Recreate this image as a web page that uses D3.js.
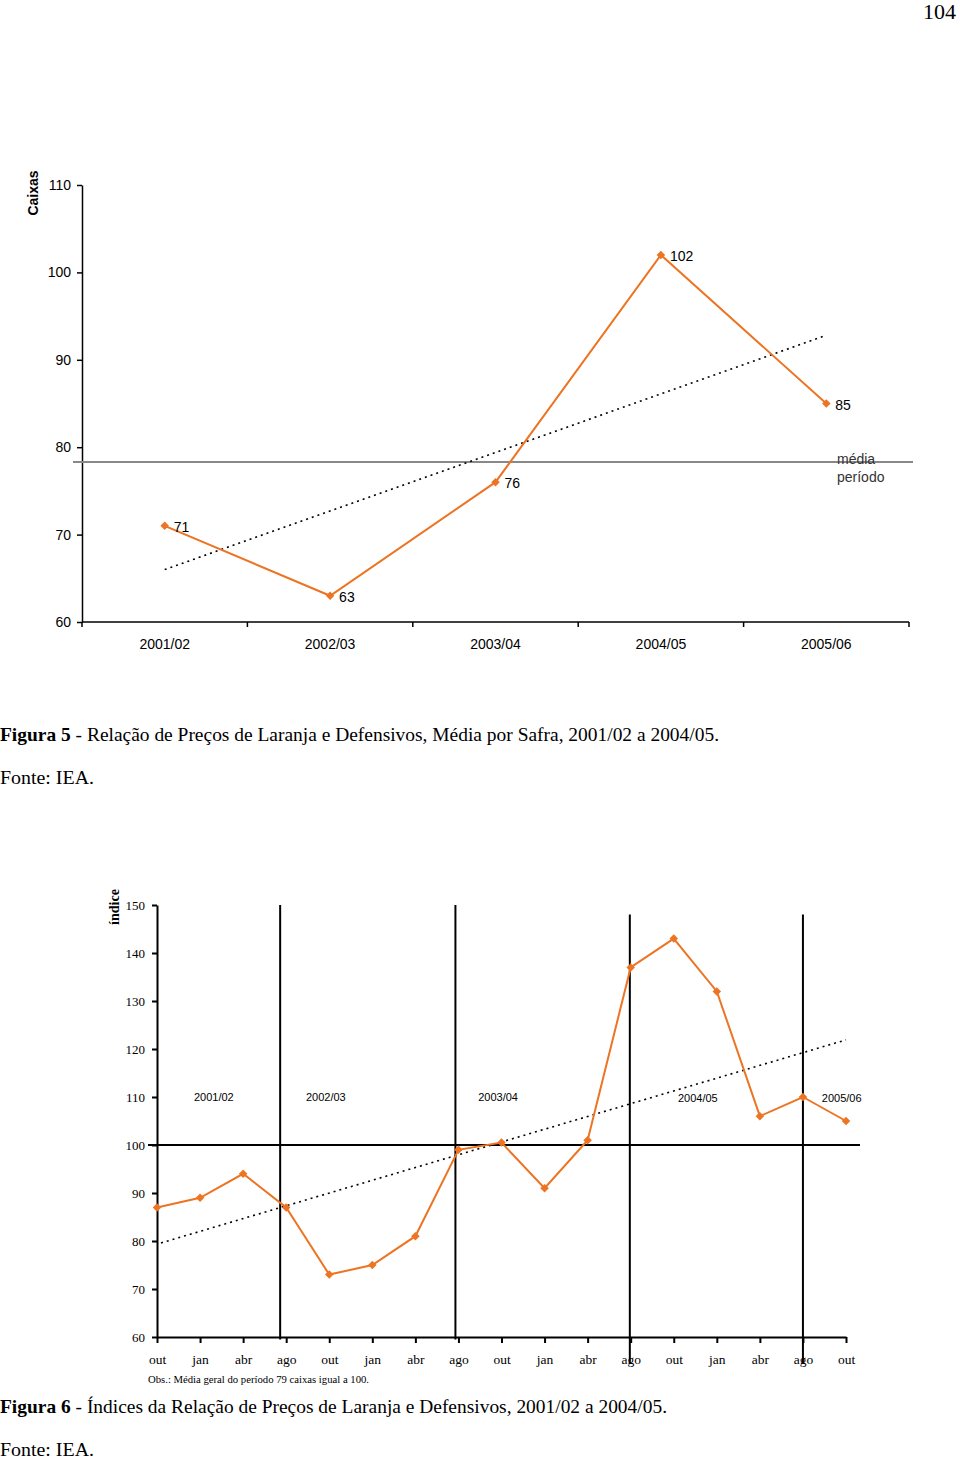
<!DOCTYPE html>
<html><head><meta charset="utf-8">
<script src="https://cdn.jsdelivr.net/npm/d3@7"></script>
<style>body{margin:0;background:#fff}svg{display:block}</style>
</head><body>
<script>
// ---- Figure 5 data ----
const safras = ["2001/02","2002/03","2003/04","2004/05","2005/06"];
const caixas = [71, 63, 76, 102, 85];
const topTicks = [60,70,80,90,100,110];
const mediaPeriodo = 78.3;
const topTrend = [66.0, 92.8]; // at first and last safra

// ---- Figure 6 data ----
const months = ["out","jan","abr","ago","out","jan","abr","ago","out","jan","abr","ago","out","jan","abr","ago","out"];
const indices = [87, 89, 94, 87, 73, 75, 81, 99, 100.5, 91, 101, 137, 143, 132, 106, 110, 105];
const bottomTicks = [60,70,80,90,100,110,120,130,140,150];
const bottomTrend = [79.6, 121.9]; // at first and last month
const dividerPos = [2.86, 6.93, 10.98, 15.0];
const dividerTop = [150, 150, 148, 148];
const dividerBottom = [59.5, 59.5, 54.5, 54.5];
const safraLabels = ["2001/02","2002/03","2003/04","2004/05","2005/06"];
const safraLabelPos = [1.32, 3.92, 7.92, 12.56, 15.9];
const safraLabelVal = [110, 110, 110, 109.7, 109.7];

const orange = "#EC7422";
const svg = d3.select("body").append("svg").attr("width",960).attr("height",1461);

// page number
svg.append("text").attr("x",956).attr("y",19).attr("text-anchor","end")
  .attr("font-family","Liberation Serif").attr("font-size",22).text("104");

// ================= Figure 5 =================
const xTop = d3.scaleBand().domain(safras).range([82, 909]);
const yTop = d3.scaleLinear().domain([60,110]).range([622,185]);
const gTop = svg.append("g");

// y axis
const yAx = gTop.append("g").attr("transform","translate(82,0)")
  .call(d3.axisLeft(yTop).tickValues(topTicks).tickSize(5).tickPadding(6).tickSizeOuter(0));
yAx.selectAll("text").attr("font-family","Liberation Sans").attr("font-size",14).attr("fill","#000");
yAx.selectAll("line,path").attr("stroke","#000").attr("stroke-width",1.5);

// x axis line + edge ticks
const xEdges = safras.map(d=>xTop(d)).concat([xTop.range()[1]]);
gTop.append("line").attr("x1",82).attr("x2",xTop.range()[1]).attr("y1",yTop(60)).attr("y2",yTop(60))
  .attr("stroke","#000").attr("stroke-width",1.5);
gTop.selectAll(".xe").data(xEdges).join("line")
  .attr("x1",d=>d).attr("x2",d=>d).attr("y1",yTop(60)).attr("y2",yTop(60)+5)
  .attr("stroke","#000").attr("stroke-width",1.5);
gTop.selectAll(".xl").data(safras).join("text")
  .attr("x",d=>xTop(d)+xTop.bandwidth()/2).attr("y",yTop(60)+27)
  .attr("text-anchor","middle").attr("font-family","Liberation Sans").attr("font-size",14).text(d=>d);

// Caixas label
gTop.append("text").attr("transform","translate(38,193) rotate(-90)").attr("text-anchor","middle")
  .attr("font-family","Liberation Sans").attr("font-weight","bold").attr("font-size",14).text("Caixas");

// média line
gTop.append("line").attr("x1",73).attr("x2",913).attr("y1",yTop(mediaPeriodo)).attr("y2",yTop(mediaPeriodo))
  .attr("stroke","#888").attr("stroke-width",2);
gTop.append("text").attr("x",837).attr("y",yTop(mediaPeriodo)+2).attr("font-family","Liberation Sans")
  .attr("font-size",14).attr("fill","#333").text("média");
gTop.append("text").attr("x",837).attr("y",yTop(mediaPeriodo)+20).attr("font-family","Liberation Sans")
  .attr("font-size",14).attr("fill","#333").text("período");

// trend
const cx = d => xTop(d)+xTop.bandwidth()/2;
gTop.append("line").attr("x1",cx(safras[0])).attr("x2",cx(safras[4]))
  .attr("y1",yTop(topTrend[0])).attr("y2",yTop(topTrend[1]))
  .attr("stroke","#000").attr("stroke-width",1.6).attr("stroke-dasharray","2,4");

// series
const topData = safras.map((s,i)=>({s, v:caixas[i]}));
gTop.append("path").datum(topData)
  .attr("d", d3.line().x(d=>cx(d.s)).y(d=>yTop(d.v)))
  .attr("fill","none").attr("stroke",orange).attr("stroke-width",2);
const diamond = d3.symbol(d3.symbolSquare).size(36)();
gTop.selectAll(".m").data(topData).join("path")
  .attr("d",diamond).attr("transform",d=>`translate(${cx(d.s)},${yTop(d.v)}) rotate(45)`).attr("fill",orange);
gTop.selectAll(".lab").data(topData).join("text")
  .attr("x",d=>cx(d.s)+9).attr("y",d=>yTop(d.v)+6)
  .attr("font-family","Liberation Sans").attr("font-size",14).text(d=>d.v);

// caption 5
svg.append("text").attr("x",0).attr("y",741).attr("font-family","Liberation Serif").attr("font-size",19)
  .attr("textLength",719).attr("lengthAdjust","spacingAndGlyphs")
  .html('<tspan font-weight="bold">Figura 5</tspan> - Relação de Preços de Laranja e Defensivos, Média por Safra, 2001/02 a 2004/05.');
svg.append("text").attr("x",0).attr("y",784).attr("font-family","Liberation Serif").attr("font-size",19)
  .attr("textLength",94).attr("lengthAdjust","spacingAndGlyphs").text("Fonte: IEA.");

// ================= Figure 6 =================
const xB = d3.scalePoint().domain(d3.range(months.length)).range([157, 846]);
const xBl = d3.scaleLinear().domain([0, months.length-1]).range([157, 846]);
const yB = d3.scaleLinear().domain([60,150]).range([1337,905]);
const gB = svg.append("g");

// dividers
gB.selectAll(".div").data(dividerPos).join("line")
  .attr("x1",d=>xBl(d)).attr("x2",d=>xBl(d))
  .attr("y1",(d,i)=>yB(dividerTop[i])).attr("y2",(d,i)=>yB(dividerBottom[i]))
  .attr("stroke","#000").attr("stroke-width",2);

// y axis
const yAxB = gB.append("g").attr("transform","translate(157,0)")
  .call(d3.axisLeft(yB).tickValues(bottomTicks).tickSize(5).tickPadding(7).tickSizeOuter(0));
yAxB.selectAll("text").attr("font-family","Liberation Serif").attr("font-size",13).attr("fill","#000");
yAxB.selectAll("line,path").attr("stroke","#000").attr("stroke-width",2);

// x axis
const xAxB = gB.append("g").attr("transform",`translate(0,${yB(60)})`)
  .call(d3.axisBottom(xB).tickSize(6).tickPadding(11).tickSizeOuter(0).tickFormat(i=>months[i]));
xAxB.selectAll("text").attr("font-family","Liberation Serif").attr("font-size",13.5).attr("fill","#000");
xAxB.selectAll("line,path").attr("stroke","#000").attr("stroke-width",2);

// 100 line
gB.append("line").attr("x1",148).attr("x2",860).attr("y1",yB(100)).attr("y2",yB(100))
  .attr("stroke","#000").attr("stroke-width",2);

// y title
gB.append("text").attr("transform","translate(119,907) rotate(-90)").attr("text-anchor","middle")
  .attr("font-family","Liberation Serif").attr("font-weight","bold").attr("font-size",14).text("índice");

// safra labels
gB.selectAll(".sl").data(safraLabels).join("text")
  .attr("x",(d,i)=>xBl(safraLabelPos[i])).attr("y",(d,i)=>yB(safraLabelVal[i])+4)
  .attr("text-anchor","middle").attr("font-family","Liberation Sans").attr("font-size",11).text(d=>d);

// trend
gB.append("line").attr("x1",xB(0)+4).attr("x2",xB(months.length-1))
  .attr("y1",yB(bottomTrend[0])).attr("y2",yB(bottomTrend[1]))
  .attr("stroke","#000").attr("stroke-width",1.6).attr("stroke-dasharray","2,4");

// series
gB.append("path").datum(indices)
  .attr("d", d3.line().x((d,i)=>xB(i)).y(d=>yB(d)))
  .attr("fill","none").attr("stroke",orange).attr("stroke-width",2);
gB.selectAll(".m").data(indices).join("path")
  .attr("d",diamond).attr("transform",(d,i)=>`translate(${xB(i)},${yB(d)}) rotate(45)`).attr("fill",orange);

// Obs
gB.append("text").attr("x",148).attr("y",1383).attr("font-family","Liberation Serif").attr("font-size",10)
  .attr("textLength",221).attr("lengthAdjust","spacingAndGlyphs")
  .text("Obs.: Média geral do período 79 caixas igual a 100.");

// caption 6
svg.append("text").attr("x",0).attr("y",1413).attr("font-family","Liberation Serif").attr("font-size",19)
  .attr("textLength",667).attr("lengthAdjust","spacingAndGlyphs")
  .html('<tspan font-weight="bold">Figura 6</tspan> - Índices da Relação de Preços de Laranja e Defensivos, 2001/02 a 2004/05.');
svg.append("text").attr("x",0).attr("y",1456).attr("font-family","Liberation Serif").attr("font-size",19)
  .attr("textLength",94).attr("lengthAdjust","spacingAndGlyphs").text("Fonte: IEA.");
</script>
</body></html>
